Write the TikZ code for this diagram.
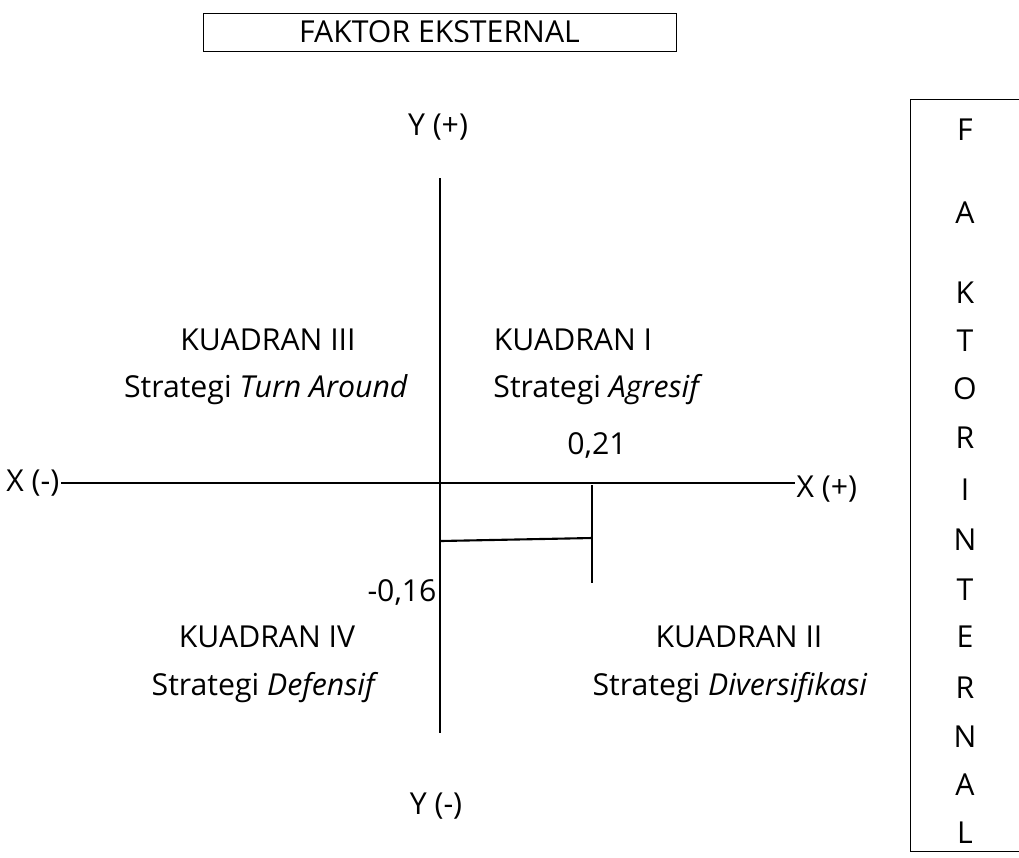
\documentclass[tikz,border=0pt]{standalone}
\usepackage{fontspec}
\setmainfont{Open Sans}
\begin{document}
\begin{tikzpicture}[x=0.025cm, y=-0.025cm, txt/.style={font=\fontsize{21.5}{26}\selectfont, inner sep=1pt}, axis/.style={line width=1.9pt}, mark line/.style={line width=1.5pt}]
      \useasboundingbox (0,0) rectangle (1019,857);
      \node[txt, draw, line width=0.6pt, minimum width=473*0.025cm, minimum height=38*0.025cm] (ext) at (439.5,32) {FAKTOR EKSTERNAL};

      \coordinate (ytop) at (440,178);
      \coordinate (ybot) at (440,733);
      \node[txt] (yplus) at (438,127) {Y (+)};
      \node[txt] (yminus) at (436,806) {Y (-)};
      \node[txt, anchor=east] (xminus) at (61,483) {X (-)};
      \node[txt, anchor=west] (xplus) at (795,489) {X (+)};
      \draw[axis] (ytop) -- (ybot);
      \draw[axis] (xminus.east |- 0,483) -- (xplus.west |- 0,483);

      \node[txt] (q3 name) at (268,340) {KUADRAN III};
      \node[txt] (q3 strat) at (266,390) {Strategi \textit{Turn Around}};
      \node[txt] (q1 name) at (573,340) {KUADRAN I};
      \node[txt] (q1 strat) at (598,390) {Strategi \textit{Agresif}};
      \node[txt] (q4 name) at (267,637) {KUADRAN IV};
      \node[txt] (q4 strat) at (265,688) {Strategi \textit{Defensif}};
      \node[txt] (q2 name) at (739,637) {KUADRAN II};
      \node[txt] (q2 strat) at (730,688) {Strategi \textit{Diversifikasi}};

      \node[txt] (val x) at (597,445) {0,21};
      \node[txt] (val y) at (402,592) {-0,16};
      \coordinate (px top) at (592,485);
      \coordinate (px bot) at (592,583);
      \coordinate (py) at (441,541);
      \draw[mark line] (px top) -- (px bot);
      \draw[mark line] (py) -- (592,538);

      \draw[line width=0.6pt] (1025,99) -- (910,99) -- (910,851) -- (1025,851);
      \foreach \ch/\yy [count=\i] in {F/130, A/213, K/293, T/341, O/389, R/438, I/490, N/540, T/590, E/637, R/688, N/737, A/785, L/833}
        \node[txt] (int-\i) at (965,\yy) {\ch};
    \end{tikzpicture}
\end{document}
